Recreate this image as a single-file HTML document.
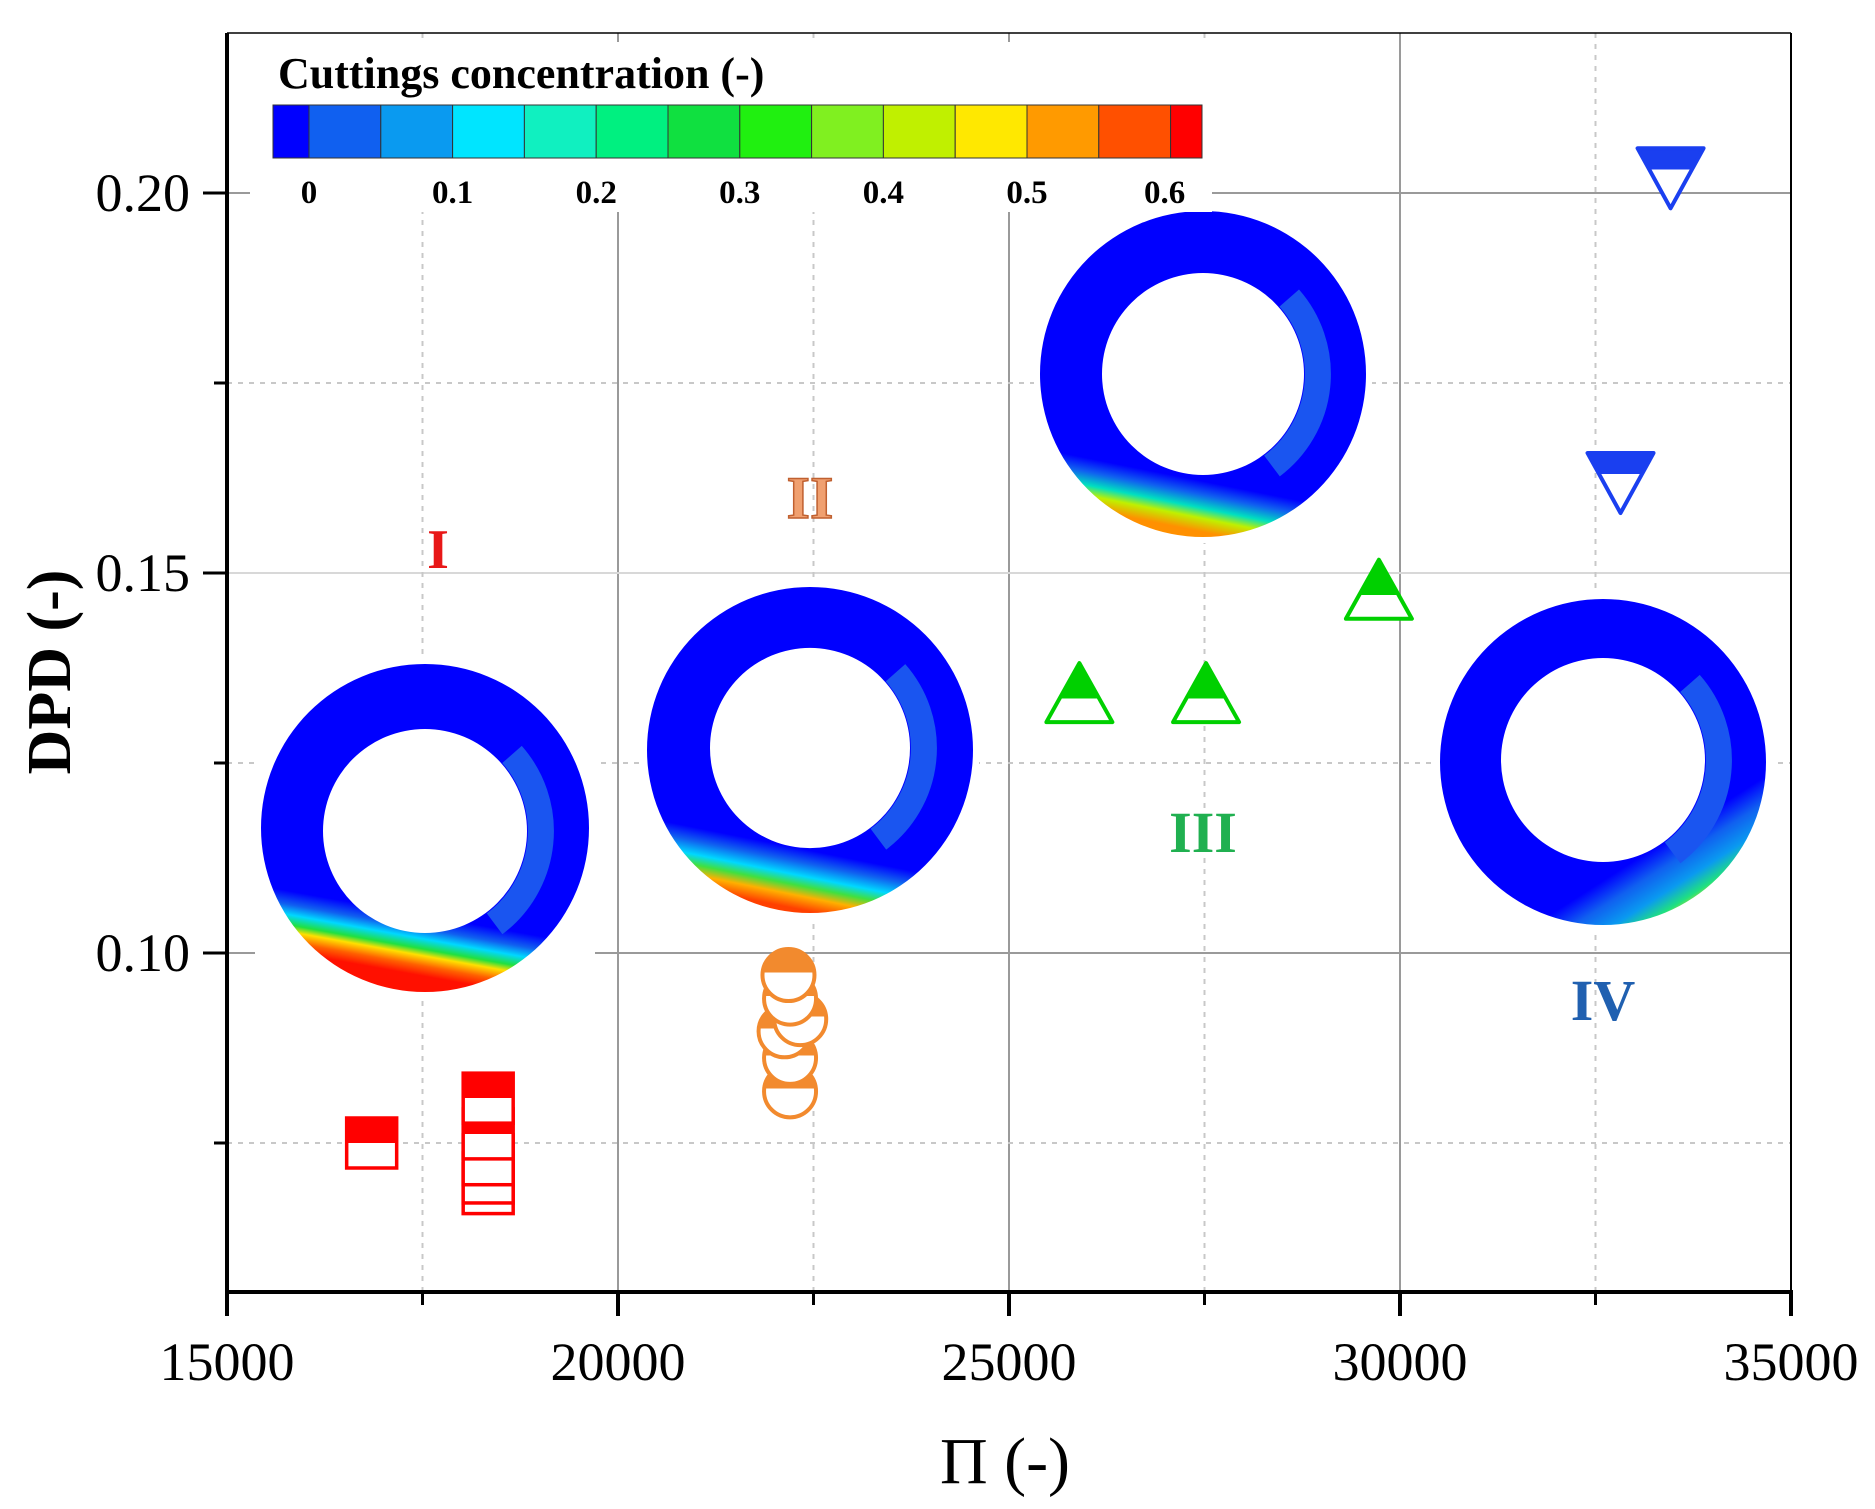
<!DOCTYPE html>
<html><head><meta charset="utf-8"><style>
html,body{margin:0;padding:0;background:#fff;}
svg{display:block;}
text{font-family:"Liberation Serif",serif;}
</style></head><body>
<svg id="chart" width="1875" height="1509" viewBox="0 0 1875 1509" xmlns="http://www.w3.org/2000/svg">
<defs>
<linearGradient id="hfRed" x1="0" y1="0" x2="0" y2="1"><stop offset="0.5" stop-color="#ff0000"/><stop offset="0.5" stop-color="#fff"/></linearGradient>
<linearGradient id="hfOr" x1="0" y1="0" x2="0" y2="1"><stop offset="0.45" stop-color="#f28a2e"/><stop offset="0.45" stop-color="#fff"/></linearGradient>
<linearGradient id="hfGr" x1="0" y1="0" x2="0" y2="1"><stop offset="0.6" stop-color="#00d000"/><stop offset="0.6" stop-color="#fff"/></linearGradient>
<linearGradient id="hfBl" x1="0" y1="0" x2="0" y2="1"><stop offset="0.35" stop-color="#1a3ff0"/><stop offset="0.35" stop-color="#fff"/></linearGradient>
<linearGradient id="gI" x1="0.6" y1="0" x2="0.42" y2="1"><stop offset="0" stop-color="#0000ff"/><stop offset="0.76" stop-color="#0000ff"/><stop offset="0.8" stop-color="#1060f0"/><stop offset="0.83" stop-color="#00d8ff"/><stop offset="0.86" stop-color="#20e040"/><stop offset="0.88" stop-color="#ffe000"/><stop offset="0.91" stop-color="#ff6000"/><stop offset="0.94" stop-color="#ff1000"/></linearGradient>
<linearGradient id="gII" x1="0.62" y1="0" x2="0.42" y2="1"><stop offset="0" stop-color="#0000ff"/><stop offset="0.8" stop-color="#0000ff"/><stop offset="0.84" stop-color="#1060f0"/><stop offset="0.88" stop-color="#00d8ff"/><stop offset="0.91" stop-color="#40e040"/><stop offset="0.94" stop-color="#ffb000"/><stop offset="0.98" stop-color="#ff4000"/></linearGradient>
<linearGradient id="gIII" x1="0.62" y1="0" x2="0.42" y2="1"><stop offset="0" stop-color="#0000ff"/><stop offset="0.82" stop-color="#0000ff"/><stop offset="0.86" stop-color="#1060f0"/><stop offset="0.9" stop-color="#00e0c0"/><stop offset="0.93" stop-color="#c0f000"/><stop offset="0.97" stop-color="#ff9000"/></linearGradient>
<linearGradient id="gIV" x1="0.3" y1="0.3" x2="0.75" y2="1"><stop offset="0" stop-color="#0000ff"/><stop offset="0.7" stop-color="#0000ff"/><stop offset="0.78" stop-color="#1060f0"/><stop offset="0.86" stop-color="#0a9af0"/><stop offset="0.92" stop-color="#20e080"/><stop offset="0.97" stop-color="#ffe000"/></linearGradient>
</defs>
<g id="grid"></g>
<g id="annuli"></g>
<g id="colorbar"></g>
<g id="axes"></g>
<g id="marks"></g>
<g id="labels">
<text x="438" y="568" font-size="56" font-weight="bold" fill="#e81818" text-anchor="middle">I</text>
<text x="810" y="518" font-size="60" font-weight="bold" fill="#f0a070" stroke="#c06030" stroke-width="1.5" text-anchor="middle">II</text>
<text x="1203" y="852" font-size="58" font-weight="bold" fill="#20b050" text-anchor="middle">III</text>
<text x="1603" y="1020" font-size="58" font-weight="bold" fill="#2060b0" text-anchor="middle">IV</text>
</g>
<text transform="translate(70,672) rotate(-90)" font-size="62" font-weight="bold" text-anchor="middle">DPD (-)</text>
<text x="1005" y="1483" font-size="66" text-anchor="middle">Π (-)</text>
</svg>
<script>
const xTicks = [15000, 20000, 25000, 30000, 35000];
const xMinor = [17500, 22500, 27500, 32500];
const yTicks = [0.10, 0.15, 0.20];
const yTickLabels = ["0.10", "0.15", "0.20"];
const yMinor = [0.075, 0.125, 0.175];
const squaresX = [16850, 18340, 18340, 18340, 18340, 18340];
const squaresY = [0.0750, 0.0809, 0.0762, 0.0728, 0.0704, 0.0690];
const circlesX = [22180, 22200, 22330, 22130, 22200, 22200];
const circlesY = [0.0971, 0.0940, 0.0913, 0.0897, 0.0862, 0.0818];
const upTriX = [25900, 27520, 29730];
const upTriY = [0.1342, 0.1342, 0.1478];
const downTriX = [33460, 32820];
const downTriY = [0.2022, 0.1621];
const cbColors = ["#0000ff","#1060f0","#0a9af0","#00e5ff","#10f0c0","#00f080","#10e040","#20f010","#80f020","#c0f000","#ffe800","#ff9a00","#ff5000","#ff0000"];
const cbLabels = ["0","0.1","0.2","0.3","0.4","0.5","0.6"];

const NS = "http://www.w3.org/2000/svg";
const X0 = 227, X1 = 1791, T = 33, B = 1292;
function X(v){ return X0 + (v - 15000) * (X1 - X0) / 20000; }
function Y(v){ return 193 + (0.20 - v) * 7600; }
function mk(parent, tag, attrs){ const e = document.createElementNS(NS, tag); for (const k in attrs) e.setAttribute(k, attrs[k]); parent.appendChild(e); return e; }

const grid = document.getElementById('grid');
xTicks.slice(1,4).forEach(v => {
  const l = mk(grid, 'line', {x1:X(v), x2:X(v), y1:T, y2:B, stroke:'#9a9a9a', 'stroke-width':2});
  
  
});
yTicks.forEach(v => {
  const l = mk(grid, 'line', {x1:X0, x2:X1, y1:Y(v), y2:Y(v), stroke:v===0.15?'#d8d8d8':'#9a9a9a', 'stroke-width':2});
  
  
});
xMinor.forEach(v => {
  const l = mk(grid, 'line', {x1:X(v), x2:X(v), y1:T, y2:B, stroke:'#c8c8c8', 'stroke-width':2, 'stroke-dasharray':'5,6'});
  
  
});
yMinor.forEach(v => {
  const l = mk(grid, 'line', {x1:X0, x2:X1, y1:Y(v), y2:Y(v), stroke:'#c8c8c8', 'stroke-width':2, 'stroke-dasharray':'5,6'});
  
  
});

// annulus contour images (decorative)
const ann = document.getElementById('annuli');
const annuli = [
  {cx:425, cy:828, R:164, ix:425, iy:831, r:102, g:'gI', n:'annulus-i'},
  {cx:810, cy:750, R:163, ix:810, iy:748, r:100, g:'gII', n:'annulus-ii'},
  {cx:1203, cy:374, R:163, ix:1203, iy:374, r:101, g:'gIII', n:'annulus-iii'},
  {cx:1603, cy:762, R:163, ix:1603, iy:760, r:102, g:'gIV', n:'annulus-iv'}
];
annuli.forEach(a => {
  const d = `M${a.cx-a.R},${a.cy} a${a.R},${a.R} 0 1,0 ${2*a.R},0 a${a.R},${a.R} 0 1,0 ${-2*a.R},0 Z M${a.ix-a.r},${a.iy} a${a.r},${a.r} 0 1,0 ${2*a.r},0 a${a.r},${a.r} 0 1,0 ${-2*a.r},0 Z`;
  const bg = mk(ann, 'rect', {x:a.cx-a.R-6, y:a.cy-a.R-6, width:2*a.R+12, height:2*a.R+12, fill:'#fff'});
  
  
  const p = mk(ann, 'path', {d:d, 'fill-rule':'evenodd', fill:`url(#${a.g})`});
  
  
  const rr = a.r + 14;
  const s = mk(ann, 'path', {d:`M${a.ix+rr*0.75},${a.iy-rr*0.66} A${rr},${rr} 0 0,1 ${a.ix+rr*0.6},${a.iy+rr*0.8}`, fill:'none', stroke:'#1a55f0', 'stroke-width':26});
  
  
});

// colorbar
const cb = document.getElementById('colorbar');
const cbBg = mk(cb, 'rect', {x:250, y:42, width:962, height:170, fill:'#fff'});


const cbt = mk(cb, 'text', {x:278, y:88, 'font-size':44, 'font-weight':'bold'});
cbt.textContent = 'Cuttings concentration (-)';


const cbL = 273, cbR = 1202, cbT = 105, cbH = 53, seg = 71.8;
cbColors.forEach((c, i) => {
  let x0 = i === 0 ? cbL : cbL + 36 + (i-1)*seg;
  let x1 = i === 0 ? cbL + 36 : Math.min(cbR, cbL + 36 + i*seg);
  const r = mk(cb, 'rect', {x:x0, y:cbT, width:x1-x0, height:cbH, fill:c, stroke:'#333', 'stroke-width':1});
  
  
});
cbLabels.forEach((t, i) => {
  const e = mk(cb, 'text', {x:cbL + 36 + i*2*seg - (i===6?6:0), y:203, 'font-size':33, 'font-weight':'bold', 'text-anchor':'middle'});
  e.textContent = t;
  
  
});

// axes
const ax = document.getElementById('axes');
[[X0,T,X1,T,1.5],[X1,T,X1,B,2]].forEach(a => {
  const l = mk(ax, 'line', {x1:a[0], y1:a[1], x2:a[2], y2:a[3], stroke:'#000', 'stroke-width':a[4]});
  
  
});
const xl = mk(ax, 'line', {x1:X0-2, y1:B, x2:X1+2, y2:B, stroke:'#000', 'stroke-width':4});


const yl = mk(ax, 'line', {x1:X0, y1:T, x2:X0, y2:B+2, stroke:'#000', 'stroke-width':4});


xTicks.forEach(v => {
  const t = mk(ax, 'line', {x1:X(v), x2:X(v), y1:B, y2:B+24, stroke:'#000', 'stroke-width':4});
  
  
  const e = mk(ax, 'text', {x:X(v), y:B+88, 'font-size':54, 'text-anchor':'middle'});
  e.textContent = v;
  
  
});
xMinor.forEach(v => {
  const t = mk(ax, 'line', {x1:X(v), x2:X(v), y1:B, y2:B+13, stroke:'#000', 'stroke-width':3});
  
  
});
yTicks.forEach((v, i) => {
  const t = mk(ax, 'line', {x1:X0-24, x2:X0, y1:Y(v), y2:Y(v), stroke:'#000', 'stroke-width':3});
  
  
  const e = mk(ax, 'text', {x:190, y:Y(v)+18, 'font-size':54, 'text-anchor':'end'});
  e.textContent = yTickLabels[i];
  
  
});
yMinor.forEach(v => {
  const t = mk(ax, 'line', {x1:X0-13, x2:X0, y1:Y(v), y2:Y(v), stroke:'#000', 'stroke-width':3});
  
  
});

// markers: draw lower values first so higher markers overlay
const mg = document.getElementById('marks');
function order(ys){ return ys.map((y,i)=>i).sort((a,b)=>ys[a]-ys[b]); }
order(squaresY).forEach(i => {
  const s = 50;
  const r = mk(mg, 'rect', {x:X(squaresX[i])-s/2, y:Y(squaresY[i])-s/2, width:s, height:s, fill:'url(#hfRed)', stroke:'#ff0000', 'stroke-width':3.5});
  
  
});
order(circlesY).forEach(i => {
  const c = mk(mg, 'circle', {cx:X(circlesX[i]), cy:Y(circlesY[i]), r:26, fill:'url(#hfOr)', stroke:'#f28a2e', 'stroke-width':4});
  
  
});
upTriX.forEach((v, i) => {
  const cx = X(v), cy = Y(upTriY[i]);
  const p = mk(mg, 'polygon', {points:`${cx},${cy-30} ${cx+33},${cy+29} ${cx-33},${cy+29}`, fill:'url(#hfGr)', stroke:'#00d000', 'stroke-width':4, 'stroke-linejoin':'round'});
  
  
});
downTriX.forEach((v, i) => {
  const cx = X(v), cy = Y(downTriY[i]);
  const p = mk(mg, 'polygon', {points:`${cx-33},${cy-28} ${cx+33},${cy-28} ${cx},${cy+32}`, fill:'url(#hfBl)', stroke:'#1a3ff0', 'stroke-width':4, 'stroke-linejoin':'round'});
  
  
});
</script>
</body></html>
